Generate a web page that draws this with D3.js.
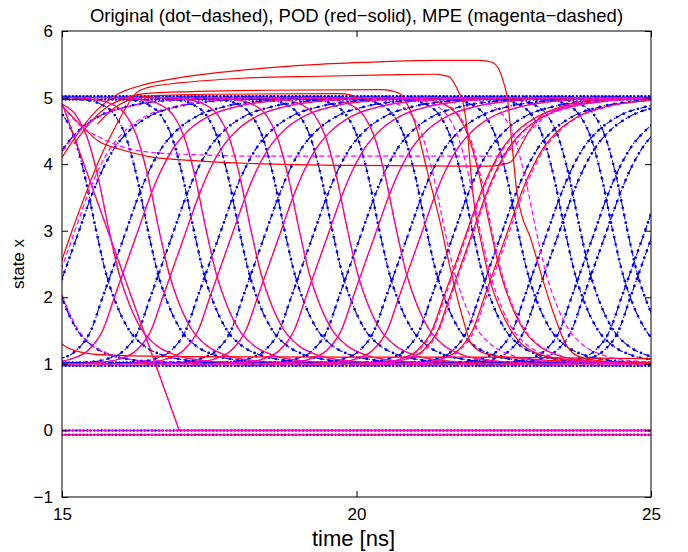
<!DOCTYPE html>
<html>
<head>
<meta charset="utf-8">
<script src="https://cdn.jsdelivr.net/npm/d3@7"></script>
<style>
  body { margin: 0; background: #fff; }
  svg { display: block; }
  text { font-family: "Liberation Sans", Arial, sans-serif; fill: #000; }
</style>
</head>
<body>
<svg id="chart" width="688" height="552"></svg>
<script>
// ---- axis ticks ----
const timeTicks = [15, 20, 25];
const stateTicks = [-1, 0, 1, 2, 3, 4, 5, 6];

// ---- edge shapes: [offset from mid-level crossing (ns), state] ----
const riseShape = [[-2.0, 1.0], [-1.5, 1.02], [-1.15, 1.07], [-0.85, 1.2], [-0.6, 1.5], [-0.4, 2.0],
  [-0.2, 2.5], [0, 3.0], [0.2, 3.5], [0.4, 3.92], [0.6, 4.24], [0.85, 4.5], [1.2, 4.72],
  [1.7, 4.87], [2.3, 4.95], [3.0, 4.99], [3.6, 5.0]];
const fallShape = [[-1.5, 5.0], [-1.1, 4.97], [-0.8, 4.9], [-0.55, 4.72], [-0.38, 4.42], [-0.2, 3.85],
  [0, 3.0], [0.17, 2.35], [0.35, 1.88], [0.55, 1.52], [0.8, 1.28], [1.1, 1.14], [1.5, 1.06],
  [2.1, 1.02], [3.0, 1.0]];

// ---- mid-level crossing times (ns) of switching edges ----
const origRise = [14.43, 15.29, 16.09, 16.90, 17.70, 18.47, 19.29, 20.10, 20.90, 21.67, 22.48,
  23.25, 23.45, 24.05, 24.25, 24.90, 25.05];
const origFall = [14.70, 15.58, 16.46, 17.24, 18.01, 18.78, 19.59, 20.39, 21.19, 21.97, 22.74,
  23.54, 23.80, 24.35, 24.60];
const podRise = [16.29, 17.11, 17.91, 18.72, 19.54, 20.34, 21.12, 21.88, 21.98, 22.57];
const podFall = [15.80, 16.65, 17.45, 18.21, 19.03, 19.85, 20.68, 22.28];
const mpeRise = [14.45, 15.22, 16.29, 17.11, 17.91, 18.72, 19.54, 20.34, 21.12, 21.90, 22.0, 22.6];
const mpeFall = [14.72, 15.80, 16.65, 17.45, 18.21, 19.03, 19.85, 20.68, 21.5, 22.1, 22.3, 23.05];

// ---- nodes held at a constant level ----
const origFlat = [5.02, 4.97, 1.02, 0.97, 0.0, -0.065];
const podFlat = [5.0, 1.0, -0.065];
const mpeFlat = [5.0, 1.0, 0.0, -0.065];

// ---- POD traces leaving the rails ----
const podOverA = [[15.0, 4.1], [15.3, 4.5], [15.6, 4.82], [15.92, 5.04], [16.3, 5.17], [16.8, 5.27],
  [17.5, 5.36], [18.3, 5.43], [19.2, 5.49], [20.2, 5.53], [21.3, 5.56], [22.1, 5.56], [22.3, 5.53],
  [22.42, 5.42], [22.5, 5.22], [22.56, 5.0], [22.64, 4.3], [22.72, 3.6], [22.8, 3.25], [22.95, 2.9],
  [23.15, 2.3], [23.35, 1.75], [23.55, 1.3], [23.75, 1.12], [24.1, 1.05], [24.6, 1.02], [25.0, 1.01]];
const podOverB = [[14.7, 1.8], [14.9, 2.3], [15.17, 3.0], [15.4, 3.55], [15.65, 4.1], [15.9, 4.55],
  [16.1, 4.87], [16.26, 5.07], [16.5, 5.16], [17.0, 5.22], [18.06, 5.29], [19.37, 5.32], [20.5, 5.34],
  [21.33, 5.35], [21.5, 5.33], [21.58, 5.31], [21.67, 5.2], [21.74, 5.07], [21.8, 4.96], [21.88, 4.5],
  [21.96, 3.7], [22.03, 3.2], [22.1, 2.9], [22.25, 2.3], [22.45, 1.8], [22.7, 1.4], [23.0, 1.18],
  [23.5, 1.07], [24.2, 1.03], [25.0, 1.02]];
const podOverC = [[15.2, 4.3], [15.5, 4.65], [15.8, 4.88], [16.1, 5.0], [16.4, 5.06], [17.2, 5.09],
  [18.5, 5.11], [20.4, 5.12], [20.6, 5.1], [20.75, 5.05], [20.85, 4.92], [21.0, 4.6], [21.2, 3.9],
  [21.4, 3.2], [21.6, 2.4], [21.8, 1.7], [21.95, 1.3], [22.2, 1.15], [22.6, 1.1], [23.5, 1.09], [25.0, 1.08]];
const podOverD = [[15.6, 4.6], [15.9, 4.85], [16.2, 4.98], [16.6, 5.03], [17.5, 5.05], [19.7, 5.06],
  [19.9, 5.04], [20.0, 5.0]];
const podTail = [[14.5, 2.2], [14.8, 1.6], [15.0, 1.3], [15.3, 1.18], [15.8, 1.13], [17.0, 1.11],
  [20.0, 1.1], [22.4, 1.1], [22.8, 1.08], [23.5, 1.04], [25.0, 1.02]];
const podSag = [[15.0, 4.88], [15.3, 4.6], [15.63, 4.34], [16.0, 4.22], [16.5, 4.11], [17.3, 4.05],
  [18.2, 4.01], [20.0, 3.98], [22.3, 3.97], [22.45, 3.99], [22.55, 4.01], [22.65, 4.06], [22.77, 4.24],
  [22.94, 4.51], [23.16, 4.74], [23.4, 4.84], [23.8, 4.94], [24.3, 4.98], [25.0, 5.0]];
const mpeSag = [[15.0, 4.88], [15.15, 4.72], [15.34, 4.56], [15.6, 4.42], [15.92, 4.29], [16.48, 4.18],
  [17.33, 4.14], [18.2, 4.12], [22.4, 4.12], [22.55, 4.18], [22.77, 4.36], [22.99, 4.54], [23.2, 4.71],
  [23.45, 4.84], [23.8, 4.94], [24.3, 4.98], [25.0, 5.0]];
// node discharged to ground (POD and MPE coincide)
const discharge = [[15.0, 4.92], [16.99, 0.0], [25.0, 0.0]];

// ---- layout ----
const svg = d3.select("#chart");
const x = d3.scaleLinear().domain([15, 25]).range([62, 651]);
const y = d3.scaleLinear().domain([-1, 6]).range([497, 31]);

svg.append("defs").append("clipPath").attr("id", "plotClip")
  .append("rect").attr("x", x(15)).attr("y", y(6))
  .attr("width", x(25) - x(15)).attr("height", y(-1) - y(6));

const smooth = d3.line().x(d => x(d[0])).y(d => y(d[1])).curve(d3.curveMonotoneX);
const straight = d3.line().x(d => x(d[0])).y(d => y(d[1]));

const placeEdge = (shape, t0) => shape.map(([dt, v]) => [t0 + dt, v]);
const flatLine = v => [[15, v], [25, v]];

const origTraces = [
  ...origRise.map(t => placeEdge(riseShape, t)),
  ...origFall.map(t => placeEdge(fallShape, t))
];
const podTraces = [
  ...podRise.map(t => placeEdge(riseShape, t)),
  ...podFall.map(t => placeEdge(fallShape, t)),
  podOverA, podOverB, podOverC, podOverD, podTail, podSag
];
const mpeTraces = [
  ...mpeRise.map(t => placeEdge(riseShape, t)),
  ...mpeFall.map(t => placeEdge(fallShape, t)),
  mpeSag
];

const plot = svg.append("g").attr("clip-path", "url(#plotClip)");

// original: blue dot-dashed with point markers
const gOrig = plot.append("g");
origFlat.forEach(v => {
  const d = straight(flatLine(v));
  gOrig.append("path").attr("d", d).attr("fill", "none").attr("stroke", "#0000ff")
    .attr("stroke-width", 1).attr("stroke-dasharray", "6,2,1.5,2");
  gOrig.append("path").attr("d", d).attr("fill", "none").attr("stroke", "#0000ff")
    .attr("stroke-width", 2.4).attr("stroke-linecap", "round").attr("stroke-dasharray", "0,3.6");
});
origTraces.forEach(tr => {
  const d = smooth(tr);
  gOrig.append("path").attr("d", d).attr("fill", "none").attr("stroke", "#0000ff")
    .attr("stroke-width", 1.1).attr("stroke-dasharray", "7,2,1.5,2");
  gOrig.append("path").attr("d", d).attr("fill", "none").attr("stroke", "#0000ff")
    .attr("stroke-width", 2.8).attr("stroke-linecap", "round").attr("stroke-dasharray", "0,7.5");
});

// POD: red solid
const gPod = plot.append("g");
podFlat.forEach(v => gPod.append("path").attr("d", straight(flatLine(v)))
  .attr("fill", "none").attr("stroke", "#ff0000").attr("stroke-width", 1.2));
podTraces.forEach(tr => gPod.append("path").attr("d", smooth(tr))
  .attr("fill", "none").attr("stroke", "#ff0000").attr("stroke-width", 1.2));
gPod.append("path").attr("d", straight(discharge))
  .attr("fill", "none").attr("stroke", "#ff0000").attr("stroke-width", 1.2);

// MPE: magenta dashed
const gMpe = plot.append("g");
const mpeStyle = p => p.attr("fill", "none").attr("stroke", "#ff00ff")
  .attr("stroke-width", 1.2).attr("stroke-dasharray", "5,3");
mpeFlat.forEach(v => mpeStyle(gMpe.append("path").attr("d", straight(flatLine(v)))));
mpeTraces.forEach(tr => mpeStyle(gMpe.append("path").attr("d", smooth(tr))));
mpeStyle(gMpe.append("path").attr("d", straight(discharge)));

// ---- axes (inward ticks on all four sides) ----
const tickLen = 6;
const axB = svg.append("g").attr("transform", `translate(0,${y(-1)})`)
  .call(d3.axisBottom(x).tickValues(timeTicks).tickSize(-tickLen).tickPadding(9).tickFormat(d3.format("d")));
const axT = svg.append("g").attr("transform", `translate(0,${y(6)})`)
  .call(d3.axisTop(x).tickValues(timeTicks).tickSize(-tickLen).tickFormat(""));
const axL = svg.append("g").attr("transform", `translate(${x(15)},0)`)
  .call(d3.axisLeft(y).tickValues(stateTicks).tickSize(-tickLen).tickPadding(9)
    .tickFormat(d => d < 0 ? "\u2212" + Math.abs(d) : d));
const axR = svg.append("g").attr("transform", `translate(${x(25)},0)`)
  .call(d3.axisRight(y).tickValues(stateTicks).tickSize(-tickLen).tickFormat(""));
[axB, axT, axL, axR].forEach(a => {
  a.select(".domain").remove();
  a.selectAll(".tick line").attr("stroke", "#000").attr("stroke-width", 1);
  a.selectAll("text").attr("font-size", 17).attr("font-family", "Liberation Sans, Arial, sans-serif");
});
axB.selectAll("text").attr("dy", "0.85em");

svg.append("rect").attr("x", x(15)).attr("y", y(6))
  .attr("width", x(25) - x(15)).attr("height", y(-1) - y(6))
  .attr("fill", "none").attr("stroke", "#000").attr("stroke-width", 1);

// ---- labels ----
svg.append("text").attr("x", (x(15) + x(25)) / 2).attr("y", 22).attr("text-anchor", "middle")
  .attr("font-size", 18.5).text("Original (dot\u2212dashed), POD (red\u2212solid), MPE (magenta\u2212dashed)");
svg.append("text").attr("x", (x(15) + x(25)) / 2 - 3).attr("y", 546).attr("text-anchor", "middle")
  .attr("font-size", 22).text("time [ns]");
svg.append("text").attr("transform", `translate(24,${(y(6) + y(-1)) / 2}) rotate(-90)`)
  .attr("text-anchor", "middle").attr("font-size", 17).text("state x");
</script>
</body>
</html>
